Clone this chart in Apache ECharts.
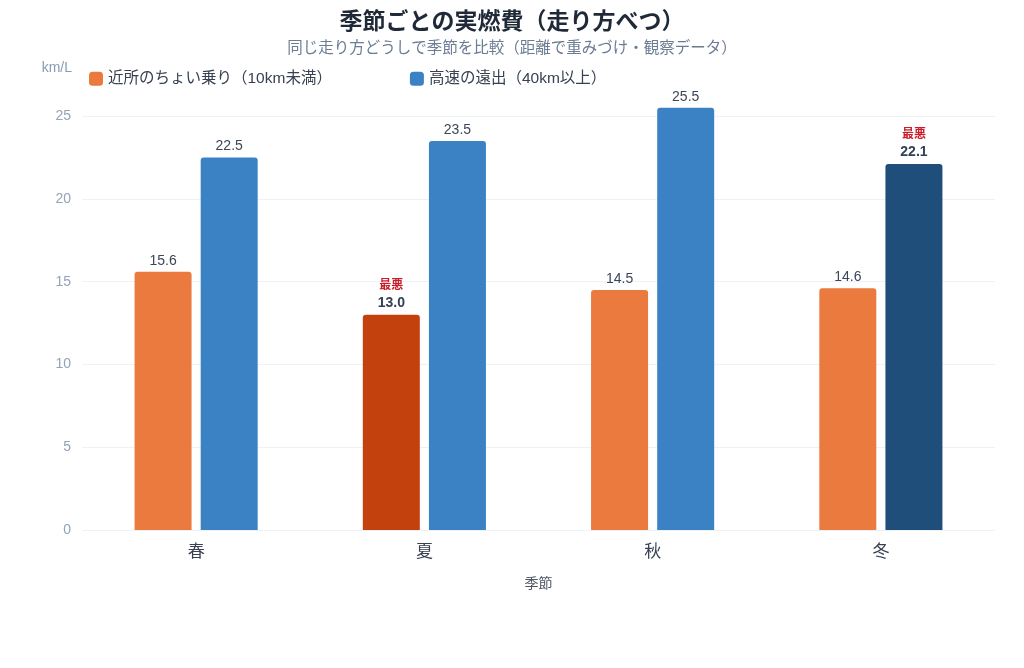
<!DOCTYPE html>
<html><head><meta charset="utf-8">
<script src="https://cdn.jsdelivr.net/npm/echarts@6/dist/echarts.min.js"></script>
<style>html,body{margin:0;padding:0;background:#fff}#c{width:1024px;height:668px}</style>
</head><body><div id="c"></div>
<script>
const categories = ['春', '夏', '秋', '冬'];
const seriesNames = ['近所のちょい乗り（10km未満）', '高速の遠出（40km以上）'];
const shortTrip = [15.6, 13.0, 14.5, 14.6];
const highway = [22.5, 23.5, 25.5, 22.1];
const worstShort = '夏';
const worstHighway = '冬';

const FONT = '"Liberation Sans", "Noto Sans CJK JP", sans-serif';
const C_SHORT = '#EA7A3D', C_SHORT_W = '#C2410C';
const C_HW = '#3B82C4', C_HW_W = '#1E4E79';

function mk(values, base, worstColor, worstCat) {
  return values.map((v, i) => {
    const w = categories[i] === worstCat;
    const d = { value: v, itemStyle: { color: w ? worstColor : base } };
    if (w) {
      d.label = { formatter: p => '{w|最悪}\n{b|' + p.value.toFixed(1) + '}' };
    }
    return d;
  });
}
const labelBase = {
  show: true, position: 'top', distance: 4,
  formatter: p => p.value.toFixed(1),
  color: '#3B4658', fontSize: 14, fontFamily: FONT,
  rich: {
    w: { color: '#C81E2A', fontSize: 12, fontWeight: 'bold', fontFamily: FONT, lineHeight: 18 },
    b: { color: '#334155', fontSize: 14, fontWeight: 'bold', fontFamily: FONT, lineHeight: 16 }
  }
};
const chart = echarts.init(document.getElementById('c'));
chart.setOption({
  animation: false,
  textStyle: { fontFamily: FONT },
  title: {
    text: '季節ごとの実燃費（走り方べつ）',
    subtext: '同じ走り方どうしで季節を比較（距離で重みづけ・観察データ）',
    left: 'center', top: 6, itemGap: 7,
    textStyle: { fontSize: 23, fontWeight: 'bold', color: '#1F2937', fontFamily: FONT },
    subtextStyle: { fontSize: 15.5, color: '#6B7C93', fontFamily: FONT }
  },
  legend: {
    left: 84, top: 66, itemWidth: 14, itemHeight: 14, itemGap: 78,
    icon: 'roundRect',
    textStyle: { fontSize: 15.5, color: '#374151', fontFamily: FONT },
    data: seriesNames
  },
  grid: { left: 82, right: 29, top: 83, bottom: 138, containLabel: false },
  xAxis: {
    type: 'category', data: categories,
    name: '季節', nameLocation: 'middle', nameGap: 47,
    nameTextStyle: { fontSize: 14, color: '#4B5563' },
    axisLine: { show: false }, axisTick: { show: false },
    axisLabel: { fontSize: 17, color: '#374151', margin: 14 }
  },
  yAxis: {
    type: 'value', min: 0, max: 27, interval: 5,
    name: 'km/L', nameLocation: 'end', nameGap: 8,
    nameTextStyle: { fontSize: 14, color: '#8A9BB5', align: 'right', padding: [0, 10, 0, 0] },
    axisLine: { show: false }, axisTick: { show: false },
    axisLabel: { fontSize: 14, color: '#94A3B8', margin: 11, showMaxLabel: false },
    splitLine: { lineStyle: { color: ['#EEF1F5', '#EEF1F5', '#EEF1F5', '#EEF1F5', '#EEF1F5', '#EEF1F5', 'rgba(0,0,0,0)'] } }
  },
  series: [
    { name: seriesNames[0], type: 'bar', barWidth: 57, barGap: '16%', color: C_SHORT,
      itemStyle: { borderRadius: [3, 3, 0, 0] }, label: labelBase,
      data: mk(shortTrip, C_SHORT, C_SHORT_W, worstShort) },
    { name: seriesNames[1], type: 'bar', barWidth: 57, color: C_HW,
      itemStyle: { borderRadius: [3, 3, 0, 0] }, label: labelBase,
      data: mk(highway, C_HW, C_HW_W, worstHighway) }
  ]
});
</script></body></html>
